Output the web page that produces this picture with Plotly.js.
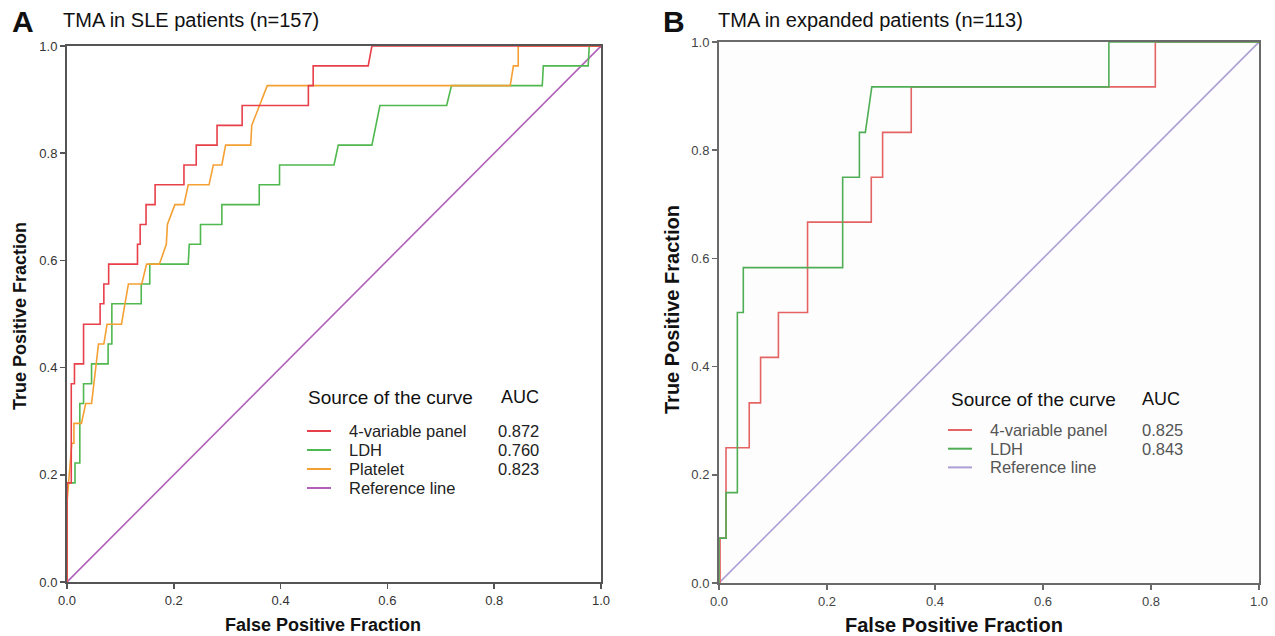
<!DOCTYPE html>
<html>
<head>
<meta charset="utf-8">
<script src="https://cdn.plot.ly/plotly-3.0.1.min.js"></script>
<style>html,body{margin:0;padding:0;background:#fff;}#chart{width:1275px;height:636px;}</style>
</head>
<body>
<div id="chart"></div>
<script>
// ---------- Panel A: TMA in SLE patients (n=157) ----------
const panelA_title = "TMA in SLE patients (n=157)";
const A_red_x = [0,0,0.008,0.008,0.014,0.014,0.031,0.031,0.062,0.062,0.069,0.069,0.078,0.078,0.132,0.132,0.137,0.137,0.148,0.148,0.165,0.165,0.219,0.219,0.242,0.242,0.281,0.281,0.328,0.328,0.452,0.452,0.461,0.461,0.564,0.571,1];
const A_red_y = [0,0.185,0.185,0.370,0.370,0.407,0.407,0.481,0.481,0.519,0.519,0.556,0.556,0.593,0.593,0.630,0.630,0.667,0.667,0.704,0.704,0.741,0.741,0.778,0.778,0.815,0.815,0.852,0.852,0.889,0.889,0.926,0.926,0.963,0.963,1,1];
const A_green_x = [0,0,0.015,0.015,0.024,0.024,0.031,0.031,0.046,0.046,0.077,0.077,0.084,0.084,0.139,0.139,0.155,0.155,0.227,0.229,0.250,0.250,0.290,0.290,0.360,0.360,0.398,0.398,0.500,0.508,0.571,0.586,0.711,0.720,0.890,0.892,0.976,0.978,1];
const A_green_y = [0,0.185,0.185,0.222,0.222,0.333,0.333,0.370,0.370,0.407,0.407,0.444,0.444,0.519,0.519,0.556,0.556,0.593,0.593,0.630,0.630,0.667,0.667,0.704,0.704,0.741,0.741,0.778,0.778,0.815,0.815,0.889,0.889,0.926,0.926,0.963,0.963,1,1];
const A_orange_x = [0,0,0.009,0.013,0.013,0.027,0.035,0.046,0.059,0.069,0.075,0.102,0.115,0.140,0.149,0.173,0.186,0.188,0.202,0.219,0.227,0.266,0.274,0.290,0.297,0.344,0.346,0.375,0.830,0.836,0.845,0.845,1];
const A_orange_y = [0,0.148,0.259,0.259,0.296,0.296,0.333,0.333,0.444,0.444,0.481,0.481,0.556,0.556,0.593,0.593,0.630,0.667,0.704,0.704,0.741,0.741,0.778,0.778,0.815,0.815,0.852,0.926,0.926,0.963,0.963,1,1];
const A_ref_x = [0,1];
const A_ref_y = [0,1];
const A_names = ["4-variable panel","LDH","Platelet","Reference line"];
const A_auc = ["0.872","0.760","0.823",""];

// ---------- Panel B: TMA in expanded patients (n=113) ----------
const panelB_title = "TMA in expanded patients (n=113)";
const B_red_x = [0,0.002,0.002,0.013,0.013,0.056,0.056,0.077,0.077,0.110,0.110,0.164,0.164,0.282,0.282,0.303,0.303,0.356,0.356,0.808,0.808,1];
const B_red_y = [0,0,0.083,0.083,0.250,0.250,0.333,0.333,0.417,0.417,0.500,0.500,0.667,0.667,0.750,0.750,0.833,0.833,0.917,0.917,1,1];
const B_green_x = [0,0,0.013,0.013,0.034,0.034,0.045,0.045,0.229,0.229,0.260,0.260,0.271,0.283,0.722,0.722,1];
const B_green_y = [0,0.083,0.083,0.167,0.167,0.500,0.500,0.583,0.583,0.750,0.750,0.833,0.833,0.917,0.917,1,1];
const B_ref_x = [0,1];
const B_ref_y = [0,1];
const B_names = ["4-variable panel","LDH","Reference line"];
const B_auc = ["0.825","0.843",""];

const tickVals = [0,0.2,0.4,0.6,0.8,1.0];
const tickText = ["0.0","0.2","0.4","0.6","0.8","1.0"];

const colA = {red:"#e8404a", green:"#4fb84f", orange:"#f5a033", purple:"#b060b8"};
const colB = {red:"#e46464", green:"#4fae55", purple:"#ad9fd6"};

function tr(x,y,color,xa,ya){
  return {x:x,y:y,mode:"lines",type:"scatter",xaxis:xa,yaxis:ya,
    line:{color:color,width:1.6},hoverinfo:"skip",showlegend:false};
}
const data = [
  tr(A_ref_x,A_ref_y,colA.purple,"x","y"),
  tr(A_green_x,A_green_y,colA.green,"x","y"),
  tr(A_orange_x,A_orange_y,colA.orange,"x","y"),
  tr(A_red_x,A_red_y,colA.red,"x","y"),
  tr(B_ref_x,B_ref_y,colB.purple,"x2","y2"),
  tr(B_red_x,B_red_y,colB.red,"x2","y2"),
  tr(B_green_x,B_green_y,colB.green,"x2","y2")
];

function axis(domain, anchor, color, tcol){
  return {domain:domain, anchor:anchor, range:[0,1], tickvals:tickVals, ticktext:tickText,
    showgrid:false, zeroline:false, showline:true, mirror:true, linecolor:color, linewidth:2,
    ticks:"outside", ticklen:5, tickwidth:1.5, tickcolor:color,
    tickfont:{family:"Liberation Sans, Arial", size:13, color:tcol}, fixedrange:true};
}
const W=1275,H=636;
const layout = {
  width:W, height:H, margin:{l:0,r:0,t:0,b:0},
  paper_bgcolor:"#ffffff", plot_bgcolor:"rgba(0,0,0,0)",
  showlegend:false,
  xaxis: axis([67/W,601/W],"y","#555","#333"),
  yaxis: axis([(H-582)/H,(H-46)/H],"x","#555","#333"),
  xaxis2: axis([719/W,1259/W],"y2","#6a6a6a","#444"),
  yaxis2: axis([(H-583)/H,(H-42)/H],"x2","#6a6a6a","#444"),
  shapes:[
    {type:"rect",xref:"x2 domain",yref:"y2 domain",x0:0,x1:1,y0:0,y1:1,fillcolor:"#fdfdfd",line:{width:0},layer:"below"}
  ],
  annotations:[]
};
const ann = layout.annotations, shp = layout.shapes;
const F = "Liberation Sans, Arial, sans-serif";
function txt(x,y,s,size,opts){
  ann.push(Object.assign({xref:"paper",yref:"paper",x:x/W,y:1-y/H,text:s,showarrow:false,
    xanchor:"left",yanchor:"middle",font:{family:F,size:size,color:"#111"}},opts||{}));
}
// Panel letters and titles
txt(10,22,"<b>A</b>",30);
txt(61,20,panelA_title,20);
txt(661,21,"<b>B</b>",30);
txt(716,20,panelB_title,20);
// Axis titles
txt(323,625,"<b>False Positive Fraction</b>",18,{xanchor:"center"});
txt(20,316,"<b>True Positive Fraction</b>",18,{xanchor:"center",textangle:-90});
txt(954,625,"<b>False Positive Fraction</b>",20,{xanchor:"center"});
txt(672,310,"<b>True Positive Fraction</b>",20,{xanchor:"center",textangle:-90});

// Legend A
txt(306,397,"Source of the curve",19);
txt(541,397,"AUC",18,{xanchor:"right"});
const aCols=[colA.red,colA.green,colA.orange,colA.purple];
A_names.forEach((n,i)=>{
  const yy=431+i*19;
  shp.push({type:"line",xref:"paper",yref:"paper",x0:307/W,x1:331/W,y0:1-yy/H,y1:1-yy/H,line:{color:aCols[i],width:2}});
  txt(347,yy,n,16.5,{font:{family:F,size:16.5,color:"#222"}});
  if(A_auc[i]) txt(541,yy,A_auc[i],16.5,{xanchor:"right",font:{family:F,size:16.5,color:"#222"}});
});
// Legend B
txt(949,399,"Source of the curve",19);
txt(1140,399,"AUC",18);
const bCols=[colB.red,colB.green,colB.purple];
B_names.forEach((n,i)=>{
  const yy=430+i*18.7;
  shp.push({type:"line",xref:"paper",yref:"paper",x0:948/W,x1:972/W,y0:1-yy/H,y1:1-yy/H,line:{color:bCols[i],width:2}});
  txt(988,yy,n,16.5,{font:{family:F,size:16.5,color:"#555"}});
  if(B_auc[i]) txt(1140,yy,B_auc[i],16.5,{font:{family:F,size:16.5,color:"#555"}});
});

Plotly.newPlot("chart",data,layout,{displayModeBar:false,staticPlot:true});
</script>
</body>
</html>
